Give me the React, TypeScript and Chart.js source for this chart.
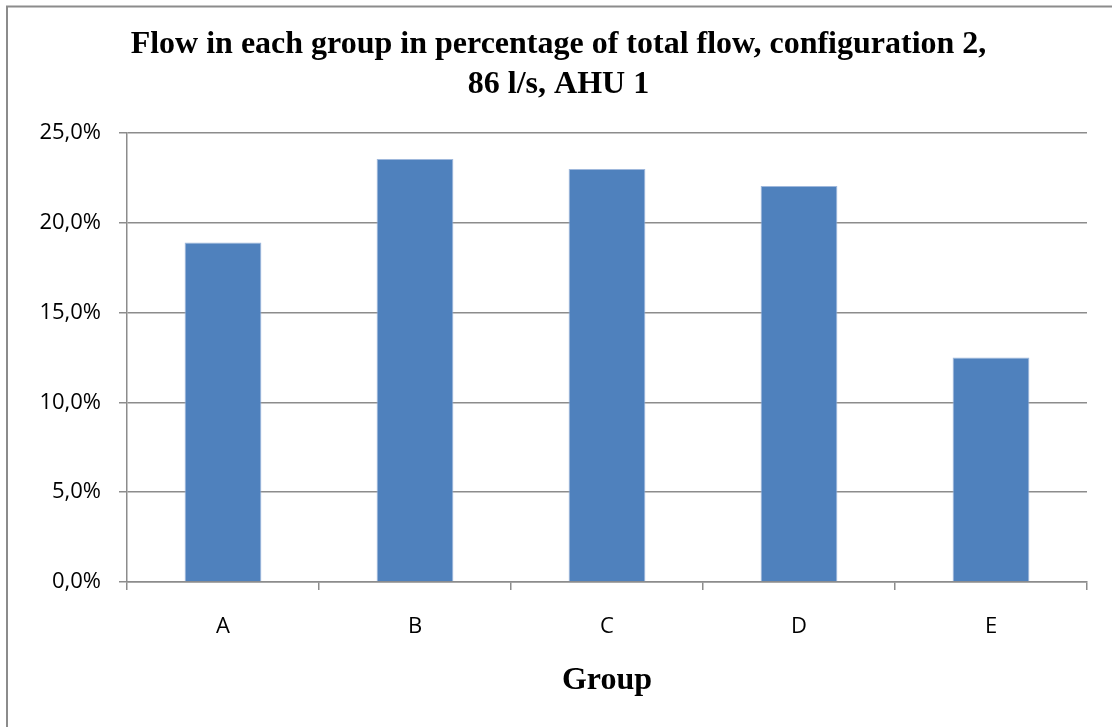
import React, { useEffect, useRef } from "react";
import { Chart, registerables } from "chart.js";

Chart.register(...registerables);

const categories = ["A", "B", "C", "D", "E"];
const flowShare = [18.9, 23.55, 23.0, 22.05, 12.5];
const yTicks = [0, 5, 10, 15, 20, 25];
const titleLines = ["Flow in each group in percentage of total flow, configuration 2,", "86 l/s, AHU 1"];
const xTitle = "Group";

const framePlugin = {
  id: "frame",
  beforeDraw(chart: any) {
    const ctx = chart.ctx;
    ctx.save();
    ctx.fillStyle = "#ffffff";
    ctx.fillRect(0, 0, chart.width, chart.height);
    ctx.strokeStyle = "#8c8c8c";
    ctx.lineWidth = 2;
    ctx.beginPath();
    ctx.moveTo(7, chart.height + 5);
    ctx.lineTo(7, 6.5);
    ctx.lineTo(chart.width + 5, 6.5);
    ctx.stroke();
    ctx.restore();
  },
};

export default function App() {
  const ref = useRef<HTMLCanvasElement>(null);
  useEffect(() => {
    if (!ref.current) return;
    const chart = new Chart(ref.current, {
      type: "bar",
      data: {
        labels: categories,
        datasets: [
          {
            data: flowShare,
            backgroundColor: "#4f81bd",
            borderColor: "#9fb8dc",
            borderWidth: 1,
            categoryPercentage: 1,
            barPercentage: 0.4,
          },
        ],
      },
      options: {
        animation: false,
        responsive: false,
        maintainAspectRatio: false,
        layout: { padding: { left: 30, right: 25, top: 0, bottom: 0 } },
        plugins: {
          legend: { display: false },
          tooltip: { enabled: false },
          title: {
            display: true,
            text: titleLines,
            color: "#000",
            font: { family: "'Liberation Serif', 'Times New Roman', serif", size: 32, weight: "bold", lineHeight: 1.25 },
            padding: { top: 25, bottom: 28 },
          },
        },
        scales: {
          x: {
            grid: {
              display: true,
              drawOnChartArea: false,
              drawTicks: true,
              tickLength: 8,
              color: "#8c8c8c",
              lineWidth: 1.5,
              offset: true,
            },
            border: { display: true, color: "#8c8c8c", width: 1.5 },
            ticks: {
              color: "#000",
              font: { family: "'Open Sans', sans-serif", size: 22 },
              padding: 24,
            },
            title: {
              display: true,
              text: xTitle,
              color: "#000",
              font: { family: "'Liberation Serif', 'Times New Roman', serif", size: 32, weight: "bold" },
              padding: { top: 0, bottom: 27 },
            },
            afterFit(scale: any) {
              scale.height = 145;
            },
          },
          y: {
            min: 0,
            max: 25,
            afterBuildTicks(scale: any) {
              scale.ticks = yTicks.map((v) => ({ value: v }));
            },
            grid: {
              color: "#8c8c8c",
              lineWidth: 1.5,
              tickLength: 8,
              drawTicks: true,
            },
            border: { display: true, color: "#8c8c8c", width: 1.5 },
            ticks: {
              color: "#000",
              font: { family: "'Open Sans', sans-serif", size: 22 },
              padding: 18,
              callback: (v: any) => Number(v).toFixed(1).replace(".", ",") + "%",
            },
            afterFit(scale: any) {
              scale.width = 97;
            },
          },
        },
      },
      plugins: [framePlugin],
    });
    return () => chart.destroy();
  }, []);
  return (
    <div style={{ position: "fixed", left: 0, top: 0, width: 1112, height: 727, overflow: "hidden", background: "#fff" }}>
      <canvas ref={ref} width={1112} height={727} style={{ display: "block", width: 1112, height: 727 }} />
    </div>
  );
}
